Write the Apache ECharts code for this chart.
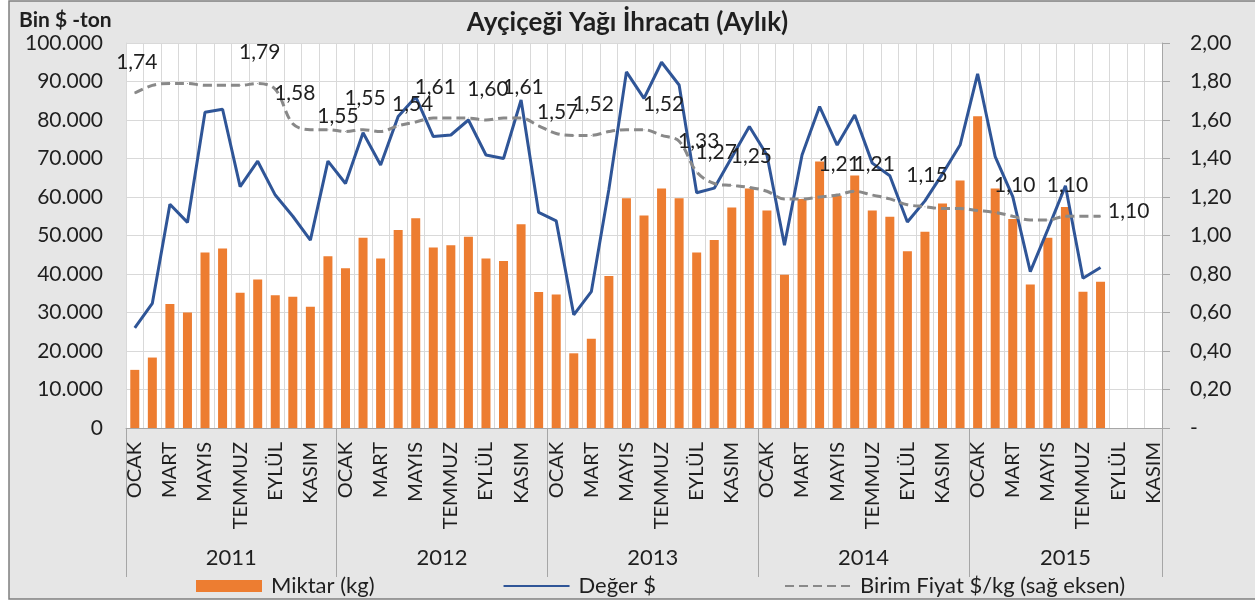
<!DOCTYPE html>
<html>
<head>
<meta charset="utf-8">
<script src="https://cdn.jsdelivr.net/npm/echarts@6/dist/echarts.min.js"></script>
<style>
  html, body { margin: 0; padding: 0; background: #fff; }
  #grafik { width: 1255px; height: 604px; }
</style>
</head>
<body>
<div id="grafik"></div>
<script>
// aylar ve yıllar
var aylar = ['OCAK', 'ŞUBAT', 'MART', 'NİSAN', 'MAYIS', 'HAZİRAN', 'TEMMUZ', 'AĞUSTOS', 'EYLÜL', 'EKİM', 'KASIM', 'ARALIK'];
var yillar = ['2011', '2012', '2013', '2014', '2015'];
var yilAySayisi = [12, 12, 12, 12, 11];

// Miktar (ton)
var miktar = [
  15100, 18300, 32200, 30000, 45600, 46600, 35100, 38600, 34500, 34100, 31500, 44600,
  41500, 49400, 44000, 51400, 54500, 46900, 47500, 49700, 44000, 43400, 52900, 35300,
  34700, 19400, 23200, 39500, 59700, 55200, 62200, 59700, 45600, 48800, 57300, 62200,
  56500, 39800, 59500, 69200, 60300, 65600, 56500, 54900, 45900, 51000, 58300, 64300,
  81000, 62200, 54300, 37300, 49400, 57400, 35400, 38000, null, null, null
];

// Değer (bin $)
var deger = [
  26000, 32400, 58100, 53400, 82000, 82800, 62700, 69300, 60500, 55000, 48800, 69300,
  63500, 76700, 68300, 80900, 86000, 75700, 76100, 80000, 70900, 70000, 85200, 56000,
  53800, 29400, 35400, 62000, 92500, 85600, 95000, 89100, 61100, 62300, 70300, 78300,
  70900, 47500, 70900, 83500, 73500, 81300, 68800, 65500, 53500, 59000, 66000, 73500,
  92000, 70500, 60100, 40600, 51600, 62900, 38900, 41700, null, null, null
];

// Birim fiyat ($/kg, sağ eksen)
var birimFiyat = [
  1.74, 1.78, 1.79, 1.79, 1.78, 1.78, 1.78, 1.79, 1.76, 1.58, 1.55, 1.55,
  1.54, 1.55, 1.54, 1.57, 1.59, 1.61, 1.61, 1.61, 1.60, 1.61, 1.61, 1.57,
  1.53, 1.52, 1.52, 1.54, 1.55, 1.55, 1.52, 1.49, 1.33, 1.27, 1.26, 1.25,
  1.23, 1.19, 1.19, 1.20, 1.21, 1.23, 1.21, 1.19, 1.16, 1.15, 1.14, 1.14,
  1.13, 1.12, 1.10, 1.08, 1.08, 1.10, 1.10, 1.10, null, null, null
];

// etiket gösterilen noktalar
var etiketliNoktalar = [0, 7, 9, 11, 13, 14, 17, 20, 22, 23, 26, 30, 32, 33, 35, 40, 42, 45, 50, 53, 55];

// elle kaydırılmış etiketler (piksel)
var etiketKaydir = { 11: [8, 18], 14: [30, 4], 23: [17, 17] };

var kategoriler = [];
var yilEkseni = [];
var yilEtiket = {};
var yilSinir = [0];
var bas = 0;
yillar.forEach(function (yil, i) {
  var n = yilAySayisi[i];
  for (var k = 0; k < n; k++) kategoriler.push(yil + ' ' + aylar[k]);
  yilEtiket[2 * bas + n] = yil;
  bas += n;
  yilSinir.push(2 * bas);
});
for (var j = 0; j <= 2 * bas; j++) yilEkseni.push(String(j));

function virgul(v) { return v.toFixed(2).replace('.', ','); }
function binlik(v) { return String(v).replace(/\B(?=(\d{3})+(?!\d))/g, '.'); }

var fiyatVerisi = birimFiyat.map(function (v, i) {
  if (etiketliNoktalar.indexOf(i) < 0) return v;
  var item = { value: v, label: { show: true } };
  if (etiketKaydir[i]) item.label.offset = [2 + etiketKaydir[i][0], etiketKaydir[i][1]];
  if (i === 55) { item.label.position = 'right'; item.label.distance = 7; item.label.offset = [0, -5]; }
  return item;
});

var yaziRengi = '#1f1f1f';
var font = 'Lato';

var grafik = echarts.init(document.getElementById('grafik'));
var option = {
  animation: false,
  textStyle: { fontFamily: font },
  graphic: [{
    type: 'rect', z: -10, silent: true,
    shape: { x: 9, y: 1, width: 1260, height: 598 },
    style: { fill: '#e6e6e6', stroke: '#7f7f7f', lineWidth: 1.5 }
  }],
  title: [{
    text: 'Ayçiçeği Yağı İhracatı (Aylık)',
    left: 'center', top: 5,
    textStyle: { fontFamily: font, fontSize: 26, fontWeight: 'bold', color: yaziRengi }
  }, {
    text: 'Bin $ -ton',
    left: 14, top: 5,
    textStyle: { fontFamily: font, fontSize: 21, fontWeight: 'bold', color: yaziRengi }
  }],
  grid: {
    left: 126, right: 93, top: 43, bottom: 176,
    show: true, backgroundColor: '#ffffff', borderWidth: 0,
    outerBoundsMode: 'none'
  },
  legend: {
    left: 191, top: 570,
    itemWidth: 66, itemHeight: 12, itemGap: 128,
    textStyle: { fontFamily: font, fontSize: 22, color: yaziRengi, padding: [0, 0, 0, 4] },
    data: [
      { name: 'Miktar (kg)', icon: 'rect' },
      { name: 'Değer $', itemStyle: { opacity: 0 } },
      { name: 'Birim Fiyat $/kg (sağ eksen)', itemStyle: { opacity: 0 } }
    ]
  },
  xAxis: [{
    type: 'category',
    data: kategoriler,
    position: 'bottom',
    axisLine: { show: true, lineStyle: { color: '#a6a6a6', width: 1 } },
    axisTick: { show: false },
    splitLine: { show: true, interval: 0, lineStyle: { color: '#d9d9d9', width: 1 } },
    axisLabel: {
      interval: 1, rotate: 90, margin: 14,
      fontFamily: font, fontSize: 20, color: yaziRengi,
      formatter: function (v) { return v.split(' ')[1]; }
    }
  }, {
    type: 'category',
    data: yilEkseni,
    position: 'bottom',
    boundaryGap: false,
    axisLine: { show: false },
    axisTick: {
      show: true, length: 149,
      interval: function (i) { return yilSinir.indexOf(i) >= 0; },
      lineStyle: { color: '#a6a6a6', width: 1 }
    },
    splitLine: { show: false },
    axisLabel: {
      interval: function (i) { return yilEtiket[i] !== undefined; },
      margin: 119, fontFamily: font, fontSize: 22, color: yaziRengi,
      formatter: function (v, i) { return yilEtiket[i] || ''; }
    }
  }],
  yAxis: [{
    type: 'value',
    min: 0, max: 100000, interval: 10000,
    axisLine: { show: true, lineStyle: { color: '#d9d9d9' } },
    axisTick: { show: false },
    splitLine: { show: true, lineStyle: { color: '#d9d9d9', width: 1 } },
    axisLabel: {
      margin: 23, fontFamily: font, fontSize: 21, color: yaziRengi,
      formatter: function (v) { return binlik(v); }
    }
  }, {
    type: 'value',
    min: 0, max: 2, interval: 0.2,
    position: 'right',
    axisLine: { show: true, lineStyle: { color: '#a6a6a6' } },
    axisTick: { show: true, length: 8, lineStyle: { color: '#a6a6a6' } },
    splitLine: { show: false },
    axisLabel: {
      margin: 28, fontFamily: font, fontSize: 21, color: yaziRengi,
      formatter: function (v) { return v === 0 ? '-' : virgul(v); }
    }
  }],
  series: [{
    name: 'Miktar (kg)',
    type: 'bar',
    data: miktar,
    barWidth: 9,
    itemStyle: { color: '#ed7d31' },
    z: 2
  }, {
    name: 'Değer $',
    type: 'line',
    data: deger,
    symbol: 'none',
    lineStyle: { color: '#2f5597', width: 3 },
    itemStyle: { color: '#2f5597' },
    z: 3
  }, {
    name: 'Birim Fiyat $/kg (sağ eksen)',
    type: 'line',
    yAxisIndex: 1,
    data: fiyatVerisi,
    symbol: 'circle',
    symbolSize: 1,
    showSymbol: true,
    smooth: 0.35,
    lineStyle: { color: '#898989', width: 3, type: [9, 5] },
    itemStyle: { color: '#898989' },
    label: {
      show: false, position: 'top', distance: 20, offset: [2, 0],
      fontFamily: font, fontSize: 21, color: yaziRengi,
      formatter: function (p) { return virgul(p.value); }
    },
    z: 4
  }]
};
grafik.setOption(option);
</script>
</body>
</html>
